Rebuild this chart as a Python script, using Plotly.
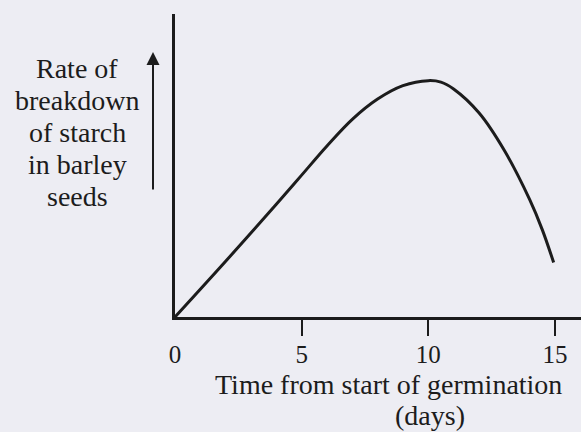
import plotly.graph_objects as go

# Data (arbitrary rate units)
days = [0, 2, 4, 5, 6, 7, 8, 9, 10, 10.5, 11, 12, 13, 14, 14.5, 14.95]
rate = [0, 2.2, 4.45, 5.6, 6.75, 7.8, 8.6, 9.13, 9.33, 9.27, 9.0, 8.06, 6.58, 4.64, 3.45, 2.15]

tick_vals = [0, 5, 10, 15]
tick_text = ["0", "5", "10", "15"]
tick_marks = [5, 10, 15]

x_title = "Time from start of germination"
x_unit = "(days)"
y_title_lines = ["Rate of", "breakdown", "of starch", "in barley", "seeds"]

BG = "#ededf3"
INK = "#1c1c1c"
FONT = "Liberation Serif"

# layout geometry (pixels)
W, H = 581, 432
ML, MT, MB = 175, 14, 115
PW, PH = W - ML, H - MT - MB


def px_x(p):
    return (p - ML) / PW


def px_y(p):
    return (H - MB - p) / PH


fig = go.Figure()
fig.add_trace(go.Scatter(
    x=days, y=rate, mode="lines",
    line=dict(color=INK, width=3, shape="spline", smoothing=1.0),
    hoverinfo="skip", showlegend=False,
))

annotations = []
for i, line in enumerate(y_title_lines):
    annotations.append(dict(
        text=line, xref="paper", yref="paper",
        x=px_x(77), y=px_y(77 + 32 * i - 8.5),
        xanchor="center", yanchor="middle", showarrow=False,
        font=dict(family=FONT, size=28, color=INK)))

annotations += [
    dict(text="", xref="paper", yref="paper",
         x=px_x(153), y=px_y(52), ax=0, ay=139,
         showarrow=True, arrowhead=2, arrowsize=1.3, arrowwidth=2,
         arrowcolor=INK),
    dict(text=x_title, xref="paper", yref="paper",
         x=px_x(388.5), y=px_y(393 - 8.5), xanchor="center", yanchor="middle",
         showarrow=False, font=dict(family=FONT, size=28, color=INK)),
    dict(text=x_unit, xref="paper", yref="paper",
         x=px_x(430), y=px_y(424 - 8.5), xanchor="center", yanchor="middle",
         showarrow=False, font=dict(family=FONT, size=28, color=INK)),
]

fig.update_layout(
    width=W, height=H,
    margin=dict(l=ML, r=0, t=MT, b=MB),
    paper_bgcolor=BG, plot_bgcolor=BG,
    font=dict(family=FONT, color=INK),
    showlegend=False,
    xaxis=dict(
        range=[0, 16.03], showgrid=False, zeroline=False,
        showline=True, linecolor=INK, linewidth=3,
        tickvals=tick_vals, ticktext=tick_text,
        ticks="outside", ticklen=13, tickcolor="rgba(0,0,0,0)",
        tickfont=dict(family=FONT, size=25, color=INK),
        minor=dict(tickvals=tick_marks, ticks="outside", ticklen=16,
                   tickwidth=2, tickcolor=INK, showgrid=False),
        fixedrange=True,
    ),
    yaxis=dict(
        range=[0, 11.96], showgrid=False, zeroline=False,
        showline=True, linecolor=INK, linewidth=3,
        showticklabels=False, ticks="", fixedrange=True,
    ),
    annotations=annotations,
)

fig.write_html(
    "out.html",
    config={"displayModeBar": False},
    post_script="document.body.style.margin='0';document.body.style.overflow='hidden';",
)
